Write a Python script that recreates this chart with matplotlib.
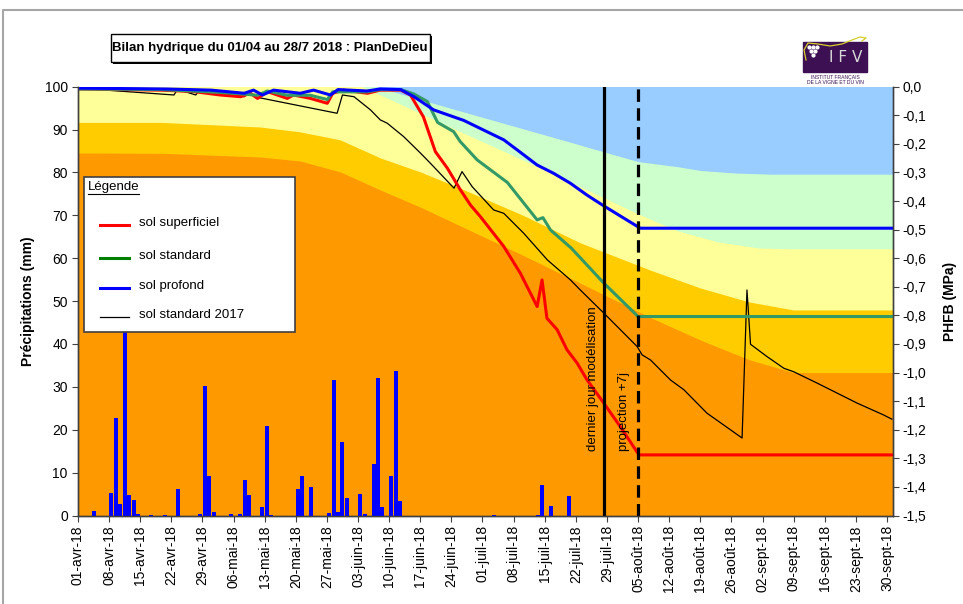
# encoding=utf-8
import numpy as np
import pandas as pd
import matplotlib
matplotlib.use('Agg')
import matplotlib.pyplot as plt
from matplotlib.patches import Rectangle
from matplotlib.lines import Line2D

plt.rcParams['font.family'] = ['Liberation Sans', 'DejaVu Sans']

START = pd.Timestamp('2018-04-01')
END = pd.Timestamp('2018-09-30')
MOIS = {4: 'avr', 5: 'mai', 6: 'juin', 7: 'juil', 8: 'août', 9: 'sept'}

TITLE = 'Bilan hydrique du 01/04 au 28/7 2018 : PlanDeDieu'
LAST_MODEL_DAY = '2018-07-28'
PROJECTION_DAY = '2018-08-05'

# pluie journaliere (mm)
rain_dates = [
    '2018-04-04', '2018-04-08', '2018-04-09', '2018-04-10', '2018-04-11',
    '2018-04-12', '2018-04-13', '2018-04-14', '2018-04-17', '2018-04-20',
    '2018-04-23', '2018-04-28', '2018-04-29', '2018-04-30', '2018-05-01',
    '2018-05-05', '2018-05-07', '2018-05-08', '2018-05-09', '2018-05-12',
    '2018-05-13', '2018-05-14', '2018-05-20', '2018-05-21', '2018-05-23',
    '2018-05-27', '2018-05-28', '2018-05-29', '2018-05-30', '2018-05-31',
    '2018-06-03', '2018-06-04', '2018-06-06', '2018-06-07', '2018-06-08',
    '2018-06-10', '2018-06-11', '2018-06-12', '2018-07-03', '2018-07-13',
    '2018-07-14', '2018-07-16', '2018-07-20',
]
rain_mm = [
    1.0, 5.2, 22.8, 2.7, 43.5,
    4.8, 3.6, 0.3, 0.2, 0.2,
    6.2, 0.3, 30.3, 9.2, 0.8,
    0.3, 0.3, 8.3, 4.8, 2.0,
    20.9, 0.2, 6.2, 9.2, 6.6,
    0.5, 31.7, 0.8, 17.2, 4.1,
    5.0, 0.3, 12.0, 32.0, 2.0,
    9.2, 33.8, 3.4, 0.2, 0.2,
    7.1, 2.2, 4.5,
]

# PHFB simule (MPa), jours comptes depuis le 01/04
sup_days = [0, 18.6, 26, 32, 36.6, 38.8, 40.4, 42.6, 47.1, 48.5, 52.3, 56.1,
            57.3, 59.7, 65.1, 68, 72.6, 74.8, 77.7, 80.4, 83.1, 86, 88.3,
            90.5, 95.8, 99.5, 103.3, 104.4, 105.5, 107.8, 110, 112.3, 114.5,
            118.3, 122, 126.2, 184]
sup_phfb = [-0.008, -0.012, -0.017, -0.029, -0.035, -0.023, -0.041, -0.017,
            -0.041, -0.029, -0.041, -0.058, -0.023, -0.012, -0.023, -0.012,
            -0.012, -0.029, -0.105, -0.227, -0.285, -0.36, -0.414, -0.454,
            -0.559, -0.652, -0.769, -0.676, -0.81, -0.85, -0.92, -0.967,
            -1.025, -1.107, -1.189, -1.288, -1.288]

std_days = [0, 18.6, 32, 36.6, 40.4, 42.6, 47.1, 52.3, 56.1, 57.3, 65.1, 68,
            72.6, 75.5, 78.6, 80.9, 84.5, 86, 89.8, 96.6, 103.3, 104.6, 106.3,
            111, 118.3, 126, 184]
std_phfb = [-0.008, -0.01, -0.02, -0.025, -0.03, -0.015, -0.03, -0.03, -0.045,
            -0.018, -0.018, -0.01, -0.01, -0.025, -0.052, -0.125, -0.157,
            -0.192, -0.256, -0.335, -0.466, -0.458, -0.501, -0.565, -0.687,
            -0.804, -0.804]

pro_days = [0, 20, 30, 37.4, 39.5, 41.5, 44, 50, 53, 56.8, 58.5, 65, 68,
            72.6, 75.6, 80, 86.8, 95.8, 98.8, 103.3, 107, 110.8, 114.5, 118.3,
            126.5, 184]
pro_phfb = [-0.005, -0.008, -0.012, -0.023, -0.012, -0.029, -0.012, -0.023,
            -0.012, -0.029, -0.01, -0.015, -0.008, -0.01, -0.035, -0.081,
            -0.118, -0.186, -0.221, -0.274, -0.303, -0.338, -0.379, -0.417,
            -0.495, -0.495]

std17_days = [0, 21.6, 22.4, 26.5, 27.2, 37.4, 38.5, 40.3, 58.3, 59.5, 62.1,
              65.8, 68, 69.6, 73.3, 77.1, 79.3, 84.6, 86.4, 88.7, 93.5, 95.8,
              100.3, 105.6, 110.8, 113, 118.3, 125.8, 126.9, 128.8, 133.3,
              136.3, 141.5, 149.4, 150.5, 151.3, 155, 158.8, 161, 166.3,
              170.8, 175.3, 181.2, 183.1]
std17_phfb = [-0.005, -0.029, -0.009, -0.029, -0.014, -0.035, -0.021, -0.037,
              -0.093, -0.029, -0.035, -0.081, -0.116, -0.128, -0.175, -0.233,
              -0.268, -0.355, -0.297, -0.35, -0.431, -0.443, -0.513, -0.606,
              -0.676, -0.711, -0.792, -0.909, -0.938, -0.956, -1.026, -1.06,
              -1.142, -1.229, -0.711, -0.901, -0.944, -0.985, -0.997, -1.037,
              -1.072, -1.107, -1.148, -1.163]

# seuils de contrainte (fond colore), MPa
seuil_days = [0, 19, 41, 50, 59, 68, 77, 86, 100, 113, 129, 140, 151, 161, 184]
seuil_severe = [-0.232, -0.233, -0.246, -0.260, -0.298, -0.361, -0.421, -0.487,
                -0.589, -0.687, -0.809, -0.886, -0.955, -1.0, -1.0]
seuil_fort = [-0.125, -0.125, -0.141, -0.158, -0.186, -0.249, -0.298, -0.355,
              -0.449, -0.546, -0.643, -0.704, -0.753, -0.781, -0.781]
modere_days = [0, 40, 64, 86, 106, 126, 135, 144, 153, 160, 184]
seuil_modere = [0.35, 0.12, 0.0, -0.157, -0.298, -0.445, -0.505, -0.543,
                -0.564, -0.567, -0.567]
faible_days = [0, 50, 67, 86, 106, 126, 135, 140, 148, 156, 184]
seuil_faible = [0.3, 0.08, 0.0, -0.085, -0.173, -0.262, -0.28, -0.293,
                -0.302, -0.306, -0.306]

W, H = 963, 604


def fx(px):
    return px / W


def fy(py):
    return 1 - py / H


def day_of(date_str):
    return (pd.Timestamp(date_str) - START).days


def draw_legend_box(fig):
    fig.patches.append(Rectangle((fx(84), fy(332)), fx(295) - fx(84), fy(177) - fy(332),
                                 transform=fig.transFigure, facecolor='white',
                                 edgecolor='#404040', lw=1.2, zorder=10))
    fig.text(fx(88), fy(187), 'Légende', fontsize=9.5, va='center', zorder=11)
    fig.lines.append(Line2D([fx(88), fx(139)], [fy(194), fy(194)],
                            transform=fig.transFigure, color='black', lw=0.8, zorder=11))
    entries = [
        ('sol superficiel', '#FF0000', 2.2, 223),
        ('sol standard', '#008000', 2.2, 256),
        ('sol profond', '#0000FF', 2.2, 286),
        ('sol standard 2017', 'black', 0.9, 315),
    ]
    for label, color, lw, y in entries:
        fig.lines.append(Line2D([fx(100), fx(129)], [fy(y + 2), fy(y + 2)],
                                transform=fig.transFigure, color=color, lw=lw, zorder=11))
        fig.text(fx(139), fy(y), label, fontsize=9.5, va='center', zorder=11)


def draw_logo(fig):
    lax = fig.add_axes([fx(795), fy(90), fx(885) - fx(795), fy(30) - fy(90)])
    lax.set_xlim(795, 885)
    lax.set_ylim(90, 30)
    lax.axis('off')
    lax.add_patch(Rectangle((803, 42), 64, 30, color='#3C1053'))
    # grappe stylisee
    gx = [809, 813, 817, 811, 815, 813]
    gy = [47, 47, 47, 51, 51, 55]
    lax.scatter(gx, gy, s=4, color='white', zorder=3)
    lax.text(846, 58, 'I F V', color='#D8D8D8', fontsize=11, ha='center',
             va='center', family=['DejaVu Sans'])
    # arabesque jaune
    sx = [806, 804, 808, 818, 830, 842, 852, 860, 866, 862]
    sy = [60, 50, 43, 44, 46, 44, 40, 37, 38, 41]
    lax.plot(sx, sy, color='#D6CC2A', lw=0.9)
    lax.text(835, 77, 'INSTITUT FRANÇAIS', color='#3C1053', fontsize=3.6, ha='center', va='center')
    lax.text(835, 83, 'DE LA VIGNE ET DU VIN', color='#3C1053', fontsize=3.6, ha='center', va='center')


def main():
    fig = plt.figure(figsize=(W / 100, H / 100), dpi=100)

    # cadre gris du graphique
    fig.lines.append(Line2D([fx(3), fx(3), fx(963)], [fy(604), fy(10), fy(10)],
                            transform=fig.transFigure, color='#A6A6A6', lw=1.5))

    ax = fig.add_axes([fx(77.5), fy(515.5), fx(893) - fx(77.5), fy(86.7) - fy(515.5)])
    ax.set_xlim(-0.1, 183.35)
    ax.set_ylim(-1.5, 0)

    # fond : zones de contrainte hydrique
    ax.set_facecolor('#99CCFF')
    ax.fill_between(faible_days, -1.5, seuil_faible, color='#CCFFCC', lw=0, zorder=0)
    ax.fill_between(modere_days, -1.5, seuil_modere, color='#FFFF99', lw=0, zorder=0)
    ax.fill_between(seuil_days, -1.5, seuil_fort, color='#FFCC00', lw=0, zorder=0)
    ax.fill_between(seuil_days, -1.5, seuil_severe, color='#FF9900', lw=0, zorder=0)

    ax.plot(std17_days, std17_phfb, color='black', lw=0.9, zorder=3)
    ax.plot(sup_days, sup_phfb, color='#FF0000', lw=2.2, zorder=4)
    ax.plot(std_days, std_phfb, color='#339966', lw=2.2, zorder=4)
    ax.plot(pro_days, pro_phfb, color='#0000FF', lw=2.2, zorder=5)

    d_model = day_of(LAST_MODEL_DAY) + 0.3
    d_proj = day_of(PROJECTION_DAY)
    ax.axvline(d_model, color='black', lw=2.3, zorder=6)
    ax.axvline(d_proj, color='black', lw=2.3, ls=(0, (3.9, 2.0)), zorder=6)
    ax.text(d_model - 1.1, -1.275, 'dernier jour modélisation', rotation=90,
            ha='right', va='bottom', fontsize=9.5, zorder=7)
    ax.text(d_proj - 1.9, -1.275, 'projection +7j', rotation=90,
            ha='right', va='bottom', fontsize=9.5, zorder=7)

    tick_dates = pd.date_range(START, END, freq='7D')
    ax.set_xticks([(d - START).days for d in tick_dates])
    ax.set_xticklabels([f'{d.day:02d}-{MOIS[d.month]}-{d:%y}' for d in tick_dates],
                       rotation=90)

    # pluie sur l'axe de gauche
    axb = ax.twinx()
    axb.bar([day_of(d) + 0.5 for d in rain_dates], rain_mm, width=0.9,
            color='#0000FF', lw=0, zorder=2)
    axb.set_ylim(0, 100)
    axb.set_yticks(range(0, 101, 10))

    # twinx remet l'axe principal a gauche : on inverse
    ax.yaxis.tick_right()
    axb.yaxis.tick_left()
    psi_ticks = np.linspace(-1.5, 0, 16)
    ax.set_yticks(psi_ticks)
    ax.set_yticklabels(['0,0' if abs(v) < 1e-9 else f'{v:.1f}'.replace('.', ',')
                        for v in psi_ticks])

    ax.tick_params(axis='both', direction='out', length=4, labelsize=10,
                   color='#404040', pad=3)
    axb.tick_params(axis='y', direction='out', length=4, labelsize=10,
                    color='#404040', pad=3)

    for a in (ax, axb):
        a.spines['top'].set_visible(False)
        for side in ('left', 'right', 'bottom'):
            a.spines[side].set_color('#404040')
            a.spines[side].set_linewidth(1.0)

    fig.text(fx(28), fy(301), 'Précipitations (mm)', rotation=90, ha='center',
             va='center', fontsize=10, fontweight='bold')
    fig.text(fx(950), fy(301), 'PHFB (MPa)', rotation=90, ha='center',
             va='center', fontsize=10, fontweight='bold')

    # titre encadre
    fig.patches.append(Rectangle((fx(113), fy(64)), fx(432) - fx(113), fy(36) - fy(64),
                                 transform=fig.transFigure, facecolor='black', lw=0))
    fig.patches.append(Rectangle((fx(111), fy(62)), fx(430) - fx(111), fy(34) - fy(62),
                                 transform=fig.transFigure, facecolor='white',
                                 edgecolor='black', lw=1.0))
    fig.text(fx(270), fy(48), TITLE, ha='center', va='center', fontsize=9.5,
             fontweight='bold')

    draw_legend_box(fig)
    draw_logo(fig)

    fig.savefig('out.png', dpi=100)


if __name__ == '__main__':
    main()
